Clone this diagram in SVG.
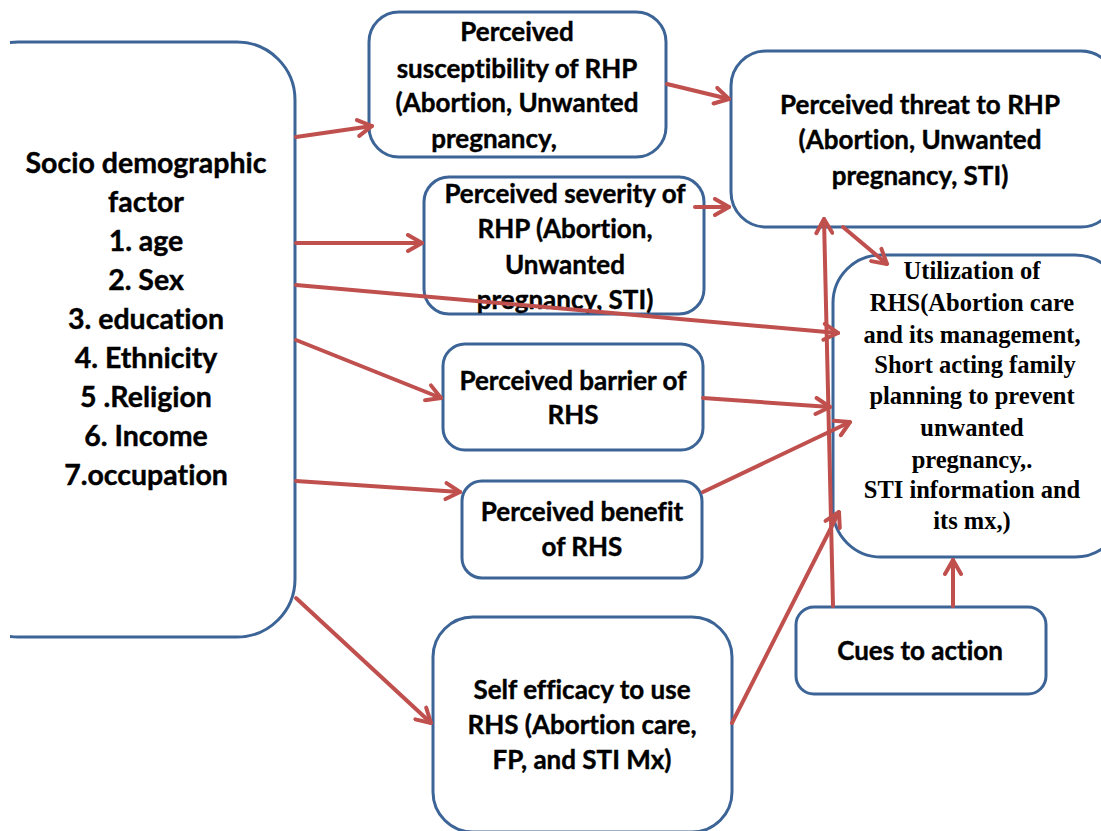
<svg xmlns="http://www.w3.org/2000/svg" width="1101" height="831" viewBox="0 0 1101 831">
<defs>
<style>
.box{fill:#fff;stroke:#3C6497;stroke-width:3}
.t{font-family:Lato,"Open Sans","Liberation Sans",sans-serif;font-weight:bold;fill:#000;text-anchor:middle;font-variant-ligatures:none;stroke:#000;stroke-width:0.4}
.s{font-family:"Liberation Serif","Times New Roman",serif;font-weight:bold;fill:#000;text-anchor:middle;font-size:24.5px}
.c{fill:none;stroke:#C0504D;stroke-width:4;stroke-linecap:round}
</style>
<marker id="ah" viewBox="0 0 20 20" refX="18" refY="10" markerWidth="20" markerHeight="20" markerUnits="userSpaceOnUse" orient="auto">
<path d="M4,2 L18,10 L4,18" fill="none" stroke="#C0504D" stroke-width="4" stroke-linecap="round" stroke-linejoin="round"/>
</marker>
<clipPath id="clipL"><rect x="10" y="0" width="400" height="831"/></clipPath>
</defs>
<rect width="1101" height="831" fill="#fff"/>

<g id="socio">
<rect class="box" x="-40" y="42" width="335" height="595" rx="58" clip-path="url(#clipL)"/>
<text class="t" font-size="28.5"><tspan x="146" y="173">Socio demographic</tspan><tspan x="146" y="212">factor</tspan><tspan x="146" y="251">1. age</tspan><tspan x="146" y="290">2. Sex</tspan><tspan x="146" y="329">3. education</tspan><tspan x="146" y="368">4. Ethnicity</tspan><tspan x="146" y="407">5 .Religion</tspan><tspan x="146" y="446">6. Income</tspan><tspan x="146" y="485">7.occupation</tspan></text>
</g>

<g id="susceptibility">
<rect class="box" x="369" y="12" width="297" height="145" rx="30"/>
<text class="t" font-size="26"><tspan x="517" y="41">Perceived</tspan><tspan x="517" y="78">susceptibility of RHP</tspan><tspan x="517" y="112">(Abortion, Unwanted</tspan><tspan x="494" y="148">pregnancy,</tspan></text>
</g>

<g id="threat">
<rect class="box" x="731" y="51" width="385" height="176" rx="35"/>
<text class="t" font-size="26"><tspan x="920" y="114">Perceived threat to RHP</tspan><tspan x="920" y="149">(Abortion, Unwanted</tspan><tspan x="920" y="185">pregnancy, STI)</tspan></text>
</g>

<g id="severity">
<rect class="box" x="424" y="177" width="280" height="137" rx="25"/>
<text class="t" font-size="26"><tspan x="565" y="203">Perceived severity of</tspan><tspan x="565" y="238">RHP (Abortion,</tspan><tspan x="565" y="274">Unwanted</tspan><tspan x="565" y="309">pregnancy, STI)</tspan></text>
</g>

<g id="barrier">
<rect class="box" x="443" y="344" width="260" height="106" rx="22"/>
<text class="t" font-size="26"><tspan x="573" y="390">Perceived barrier of</tspan><tspan x="573" y="424">RHS</tspan></text>
</g>

<g id="benefit">
<rect class="box" x="462" y="481" width="240" height="97" rx="20"/>
<text class="t" font-size="26"><tspan x="582" y="521">Perceived benefit</tspan><tspan x="582" y="556">of RHS</tspan></text>
</g>

<g id="selfefficacy">
<rect class="box" x="433" y="617" width="299" height="215" rx="40"/>
<text class="t" font-size="26"><tspan x="582" y="699">Self efficacy to use</tspan><tspan x="582" y="734">RHS (Abortion care,</tspan><tspan x="582" y="769">FP, and STI Mx)</tspan></text>
</g>

<g id="utilization">
<rect class="box" x="833" y="255" width="290" height="302" rx="48"/>
<text class="s"><tspan x="972" y="279">Utilization of</tspan><tspan x="972" y="311">RHS(Abortion care</tspan><tspan x="972" y="343">and its management,</tspan><tspan x="975" y="373">Short acting family</tspan><tspan x="972" y="404">planning to prevent</tspan><tspan x="972" y="436">unwanted</tspan><tspan x="972" y="468">pregnancy,.</tspan><tspan x="972" y="498">STI information and</tspan><tspan x="972" y="529">its mx,)</tspan></text>
</g>

<g id="cues">
<rect class="box" x="796" y="607" width="250" height="87" rx="18"/>
<text class="t" font-size="26"><tspan x="920" y="660">Cues to action</tspan></text>
</g>

<g id="connectors">
<line class="c" x1="296" y1="137" x2="372" y2="126" marker-end="url(#ah)"/>
<line class="c" x1="296" y1="243" x2="422" y2="243" marker-end="url(#ah)"/>
<line class="c" x1="296" y1="285" x2="838" y2="333" marker-end="url(#ah)"/>
<line class="c" x1="296" y1="340" x2="441" y2="398" marker-end="url(#ah)"/>
<line class="c" x1="296" y1="481" x2="460" y2="492" marker-end="url(#ah)"/>
<line class="c" x1="296" y1="598" x2="431" y2="723" marker-end="url(#ah)"/>
<line class="c" x1="667" y1="84" x2="729" y2="99" marker-end="url(#ah)"/>
<line class="c" x1="695" y1="207" x2="729" y2="207" marker-end="url(#ah)"/>
<line class="c" x1="843" y1="227" x2="887" y2="264" marker-end="url(#ah)"/>
<line class="c" x1="833" y1="606" x2="824" y2="219" marker-end="url(#ah)"/>
<line class="c" x1="703" y1="398" x2="830" y2="407" marker-end="url(#ah)"/>
<line class="c" x1="703" y1="492" x2="850" y2="422" marker-end="url(#ah)"/>
<line class="c" x1="732" y1="723" x2="839" y2="512" marker-end="url(#ah)"/>
<line class="c" x1="953" y1="606" x2="953" y2="560" marker-end="url(#ah)"/>
</g>
</svg>
